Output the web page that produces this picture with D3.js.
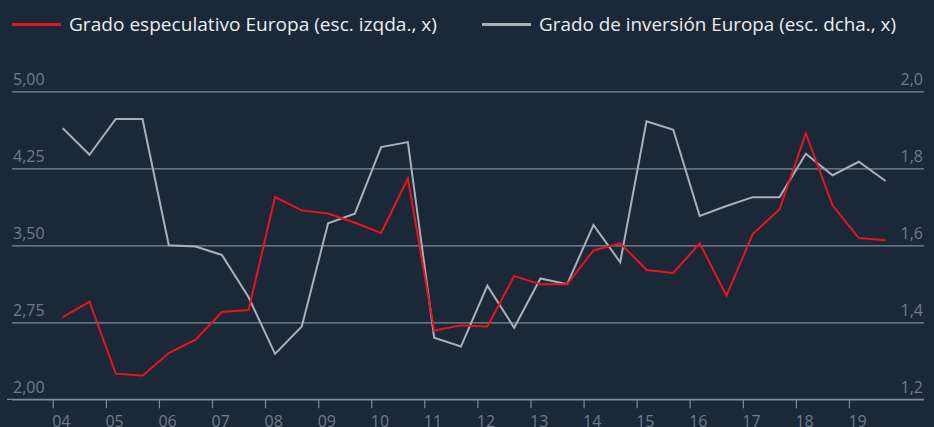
<!DOCTYPE html>
<html>
<head>
<meta charset="utf-8">
<script src="https://cdn.jsdelivr.net/npm/d3@7"></script>
<style>
  html, body { margin: 0; padding: 0; background: #1b2838; }
  svg { display: block; }
  text { font-family: 'Open Sans', sans-serif; }
</style>
</head>
<body>
<svg id="chart" width="934" height="427"></svg>
<script>
/* global d3: false */

// semi-annual observations, 2004 - 2019
const periods = [
  '2004-03-10', '2004-09-10', '2005-03-10', '2005-09-10', '2006-03-10', '2006-09-10',
  '2007-03-10', '2007-09-10', '2008-03-10', '2008-09-10', '2009-03-10', '2009-09-10',
  '2010-03-10', '2010-09-10', '2011-03-10', '2011-09-10', '2012-03-10', '2012-09-10',
  '2013-03-10', '2013-09-10', '2014-03-10', '2014-09-10', '2015-03-10', '2015-09-10',
  '2016-03-10', '2016-09-10', '2017-03-10', '2017-09-10', '2018-03-10', '2018-09-10',
  '2019-03-10', '2019-09-10'];

const speculative = [
  2.80, 2.95, 2.25, 2.23, 2.45, 2.58, 2.85, 2.87, 3.97, 3.84, 3.81, 3.72,
  3.62, 4.15, 2.67, 2.72, 2.71, 3.20, 3.12, 3.12, 3.45, 3.52, 3.26, 3.23,
  3.52, 3.01, 3.61, 3.85, 4.59, 3.89, 3.57, 3.55];

const investment = [
  1.904, 1.835, 1.928, 1.928, 1.600, 1.597, 1.575, 1.465, 1.318, 1.389, 1.657, 1.682,
  1.855, 1.868, 1.360, 1.337, 1.495, 1.386, 1.514, 1.499, 1.653, 1.556, 1.922, 1.900,
  1.676, 1.702, 1.725, 1.725, 1.838, 1.782, 1.817, 1.767];

const yearTicks = ['2004', '2005', '2006', '2007', '2008', '2009', '2010', '2011',
  '2012', '2013', '2014', '2015', '2016', '2017', '2018', '2019'];
const leftTicks = [2.00, 2.75, 3.50, 4.25, 5.00];
const rightTicks = [1.2, 1.4, 1.6, 1.8, 2.0];

const legendLabels = [
  'Grado especulativo Europa (esc. izqda., x)',
  'Grado de inversión Europa (esc. dcha., x)'];

const red = '#e8141e';
const grey = '#a9b0b8';
const gridColor = '#7d8b98';
const labelColor = '#6e7c8b';

const svg = d3.select('#chart');
const parse = d3.timeParse('%Y-%m-%d');
const comma = d3.formatLocale({ decimal: ',', thousands: '.', grouping: [3], currency: ['', '€'] });

const x = d3.scaleTime()
  .domain([parse('2004-01-01'), parse('2020-01-01')])
  .range([52.7, 902]);
const yLeft = d3.scaleLinear().domain([2, 5]).range([399.3, 91.3]);
const yRight = d3.scaleLinear().domain([1.2, 2.0]).range([399.3, 91.3]);

// gridlines + left labels
const grid = svg.append('g')
  .attr('transform', 'translate(924,0)')
  .call(d3.axisLeft(yLeft).tickValues(leftTicks).tickSize(912).tickFormat(''));
grid.select('.domain').remove();
grid.selectAll('line').attr('stroke', gridColor).attr('stroke-width', 1.2);

svg.append('g')
  .selectAll('text')
  .data(leftTicks)
  .enter()
  .append('text')
  .attr('x', 13)
  .attr('y', d => yLeft(d) - 6)
  .attr('fill', labelColor)
  .attr('font-size', 16)
  .text(d => comma.format('.2f')(d));

svg.append('g')
  .selectAll('text')
  .data(rightTicks)
  .enter()
  .append('text')
  .attr('x', 923)
  .attr('y', d => yRight(d) - 6)
  .attr('text-anchor', 'end')
  .attr('fill', labelColor)
  .attr('font-size', 16)
  .text(d => comma.format('.1f')(d));

// x axis
const xAxis = svg.append('g')
  .attr('transform', `translate(0,${yLeft(2)})`)
  .call(d3.axisBottom(x)
    .tickValues(yearTicks.map(y => parse(`${y}-01-01`)))
    .tickSize(9)
    .tickSizeOuter(0)
    .tickFormat(d3.timeFormat('%y')));
xAxis.select('.domain')
  .attr('d', 'M7,0H924')
  .attr('stroke', gridColor)
  .attr('stroke-width', 1.2);
xAxis.selectAll('line').attr('stroke', gridColor).attr('stroke-width', 1.2);
xAxis.selectAll('text')
  .attr('text-anchor', 'start')
  .attr('x', -1)
  .attr('y', 16)
  .attr('dy', '0.71em')
  .attr('fill', labelColor)
  .attr('font-size', 16)
  .attr('font-family', "'Open Sans', sans-serif");

// lines
const dates = periods.map(parse);
const lineLeft = d3.line().x((d, i) => x(dates[i])).y(d => yLeft(d));
const lineRight = d3.line().x((d, i) => x(dates[i])).y(d => yRight(d));

svg.append('path')
  .datum(investment)
  .attr('fill', 'none')
  .attr('stroke', grey)
  .attr('stroke-width', 2)
  .attr('d', lineRight);

svg.append('path')
  .datum(speculative)
  .attr('fill', 'none')
  .attr('stroke', red)
  .attr('stroke-width', 2)
  .attr('d', lineLeft);

// legend
const legend = [
  { label: legendLabels[0], color: red, x0: 12, tx: 69, w: 368 },
  { label: legendLabels[1], color: grey, x0: 482, tx: 539, w: 357 }];

legend.forEach((l) => {
  svg.append('line')
    .attr('x1', l.x0).attr('x2', l.x0 + 49)
    .attr('y1', 24.5).attr('y2', 24.5)
    .attr('stroke', l.color)
    .attr('stroke-width', 3);
  svg.append('text')
    .attr('x', l.tx)
    .attr('y', 31)
    .attr('fill', '#e9edf0')
    .attr('font-size', 19)
    .attr('textLength', l.w)
    .attr('lengthAdjust', 'spacingAndGlyphs')
    .text(l.label);
});
</script>
</body>
</html>
